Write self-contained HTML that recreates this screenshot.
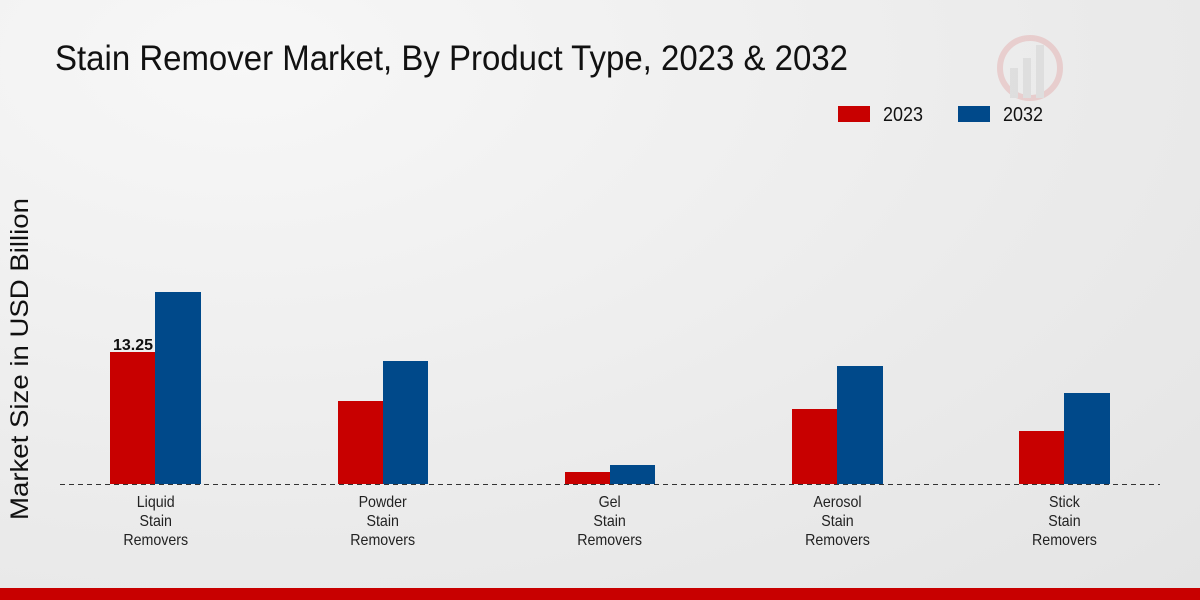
<!DOCTYPE html>
<html><head><meta charset="utf-8"><style>
body{margin:0;width:1200px;height:600px;overflow:hidden;background:radial-gradient(ellipse at 20% 10%,#f7f7f7 0%,#ebebeb 60%,#e4e4e4 100%);position:relative}
</style></head><body>
<svg width="1200" height="600" style="position:absolute;left:0;top:0" font-family="Liberation Sans, sans-serif">
<text x="55" y="70" font-size="35" fill="#111" textLength="793" lengthAdjust="spacingAndGlyphs">Stain Remover Market, By Product Type, 2023 &amp; 2032</text>
<g opacity="0.12"><circle cx="1030" cy="68" r="30" fill="none" stroke="#c00" stroke-width="6"/><rect x="1010" y="68" width="8" height="30" fill="#888"/><rect x="1023" y="58" width="8" height="40" fill="#888"/><rect x="1036" y="45" width="8" height="53" fill="#888"/></g>
<rect x="838" y="106" width="32" height="16" fill="#c80000"/><text x="883" y="121" font-size="20" fill="#111" textLength="40" lengthAdjust="spacingAndGlyphs">2023</text>
<rect x="958" y="106" width="32" height="16" fill="#00498a"/><text x="1003" y="121" font-size="20" fill="#111" textLength="40" lengthAdjust="spacingAndGlyphs">2032</text>
<text transform="translate(28,359) rotate(-90)" text-anchor="middle" font-size="25" fill="#111" textLength="322" lengthAdjust="spacingAndGlyphs">Market Size in USD Billion</text>
<g fill="#c80000">
<rect x="110" y="352" width="45" height="132"/><rect x="338" y="401" width="45" height="83"/><rect x="565" y="472" width="45" height="12"/><rect x="792" y="409" width="45" height="75"/><rect x="1019" y="431" width="45" height="53"/></g>
<g fill="#00498a">
<rect x="155" y="292" width="46" height="192"/><rect x="383" y="361" width="45" height="123"/><rect x="610" y="465" width="45" height="19"/><rect x="837" y="366" width="46" height="118"/><rect x="1064" y="393" width="46" height="91"/></g>
<line x1="60" y1="484.5" x2="1160" y2="484.5" stroke="#333" stroke-dasharray="5,4"/>
<text x="133" y="350" text-anchor="middle" font-size="16" font-weight="bold" fill="#111">13.25</text>
<g font-size="16" fill="#222" text-anchor="middle" transform="scale(0.89,1)">
<text x="175" y="507">Liquid</text><text x="175" y="526">Stain</text><text x="175" y="545">Removers</text>
<text x="430" y="507">Powder</text><text x="430" y="526">Stain</text><text x="430" y="545">Removers</text>
<text x="685" y="507">Gel</text><text x="685" y="526">Stain</text><text x="685" y="545">Removers</text>
<text x="941" y="507">Aerosol</text><text x="941" y="526">Stain</text><text x="941" y="545">Removers</text>
<text x="1196" y="507">Stick</text><text x="1196" y="526">Stain</text><text x="1196" y="545">Removers</text>
</g>
<rect x="0" y="588" width="1200" height="12" fill="#c80000"/>
</svg>
</body></html>
